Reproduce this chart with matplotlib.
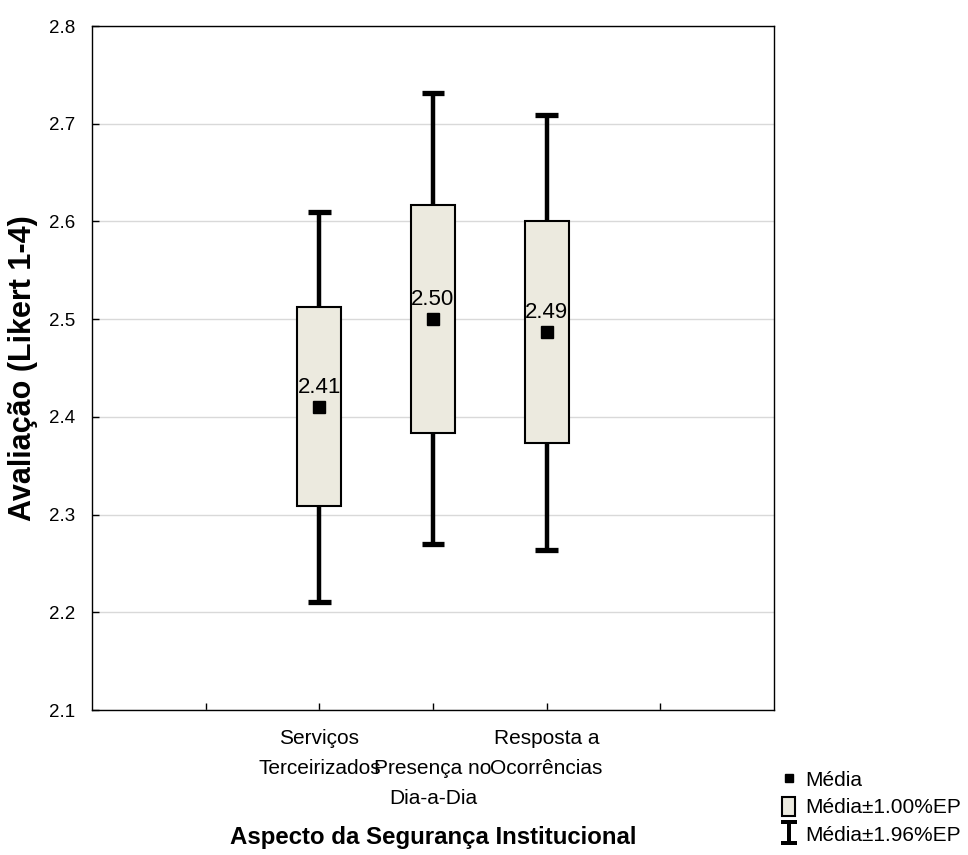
import matplotlib
matplotlib.use("Agg")
import matplotlib.pyplot as plt
from matplotlib.patches import Rectangle, Patch
from matplotlib.lines import Line2D
from matplotlib.path import Path

plt.rcParams['font.family'] = ['Liberation Sans', 'DejaVu Sans']

categories = ["Serviços\nTerceirizados", "\nPresença no\nDia-a-Dia", "Resposta a\nOcorrências"]
positions = [2, 3, 4]
means = [2.410, 2.500, 2.487]
box_low = [2.309, 2.383, 2.373]
box_high = [2.512, 2.617, 2.600]
whisk_low = [2.211, 2.270, 2.264]
whisk_high = [2.610, 2.731, 2.709]
mean_labels = ["2.41", "2.50", "2.49"]

box_color = "#ECEADF"

fig = plt.figure(figsize=(9.68, 8.55), dpi=100)
ax = fig.add_axes([92/968, 1-710/855, (774-92)/968, (710-26)/855])

box_w = 0.39
cap_w = 0.2
for x, m, bl, bh, wl, wh, lab in zip(positions, means, box_low, box_high, whisk_low, whisk_high, mean_labels):
    ax.plot([x, x], [wl, bl], color='black', lw=3.2, solid_capstyle='butt', zorder=2)
    ax.plot([x, x], [bh, wh], color='black', lw=3.2, solid_capstyle='butt', zorder=2)
    ax.plot([x - cap_w/2, x + cap_w/2], [wl, wl], color='black', lw=3.8, solid_capstyle='butt', zorder=2)
    ax.plot([x - cap_w/2, x + cap_w/2], [wh, wh], color='black', lw=3.8, solid_capstyle='butt', zorder=2)
    ax.add_patch(Rectangle((x - box_w/2, bl), box_w, bh - bl, facecolor=box_color,
                           edgecolor='black', lw=1.5, zorder=3))
    ax.plot([x], [m], marker='s', color='black', markersize=8, linestyle='none', zorder=4)
    ax.annotate(lab, (x, m), xytext=(0, 6.5), textcoords='offset points',
                ha='center', va='bottom', fontsize=16, zorder=5)

ax.set_xlim(0, 6)
ax.set_ylim(2.1, 2.8)
ax.set_xticks([1, 2, 3, 4, 5])
ax.set_xticklabels(["", categories[0], categories[1], categories[2], ""], fontsize=15, linespacing=1.72)
ax.set_yticks([2.1, 2.2, 2.3, 2.4, 2.5, 2.6, 2.7, 2.8])
ax.set_yticklabels(["2.1", "2.2", "2.3", "2.4", "2.5", "2.6", "2.7", "2.8"], fontsize=13.5)
ax.tick_params(axis='x', direction='in', length=5, pad=14, width=1)
ax.tick_params(axis='y', direction='in', length=5, pad=12, width=1)
ax.grid(axis='y', color='#D9D9D9', lw=1.0, zorder=0)
ax.set_axisbelow(True)
for s in ax.spines.values():
    s.set_linewidth(1.0)
    s.set_color('black')

ax.set_ylabel("Avaliação (Likert 1-4)", fontsize=22, fontweight='bold', labelpad=8)
ax.set_xlabel("Aspecto da Segurança Institucional", fontsize=17.3, fontweight='bold', labelpad=13)

# I-beam legend symbol
hw, st, bt = 0.62, 0.16, 0.32
ibeam = Path([(-hw, 1), (hw, 1), (hw, 1 - bt), (st, 1 - bt), (st, -1 + bt), (hw, -1 + bt),
              (hw, -1), (-hw, -1), (-hw, -1 + bt), (-st, -1 + bt), (-st, 1 - bt), (-hw, 1 - bt),
              (-hw, 1)], closed=True)

handles = [
    Line2D([], [], marker='s', color='black', linestyle='none', markersize=6),
    Patch(facecolor=box_color, edgecolor='black', lw=1.5),
    Line2D([], [], marker=ibeam, color='black', markeredgewidth=0, linestyle='none', markersize=18),
]
labels = ["Média", "Média±1.00%EP", "Média±1.96%EP"]
fig.legend(handles, labels, loc='lower left', bbox_to_anchor=(772/968, 0.0),
           frameon=False, fontsize=15, handlelength=0.6, handleheight=1.0, handletextpad=0.5,
           labelspacing=0.32, borderaxespad=0.1)

fig.savefig("out.png", dpi=100)
